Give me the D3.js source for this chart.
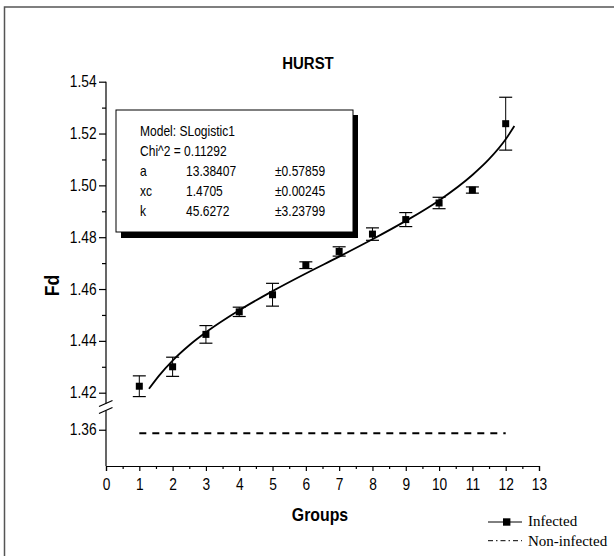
<!DOCTYPE html>
<html>
<head>
<meta charset="utf-8">
<script src="https://cdn.jsdelivr.net/npm/d3@7"></script>
<style>
  body { margin: 0; background: #fff; }
  svg text { font-family: Arial, "Liberation Sans", Helvetica, sans-serif; fill: #000; }
  .legend text { font-family: "Times New Roman", "Liberation Serif", serif; }
</style>
</head>
<body>
<div id="chart"></div>
<script>
// Infected group means (Fd) with error bars
var groups   = [1, 2, 3, 4, 5, 6, 7, 8, 9, 10, 11, 12];
var infected = [1.4225, 1.4300, 1.4425, 1.4512, 1.4578, 1.4692, 1.4745, 1.4812, 1.4868, 1.4932, 1.4982, 1.5238];
var errors   = [0.0040, 0.0037, 0.0034, 0.0018, 0.0044, 0.0013, 0.0018, 0.0024, 0.0027, 0.0022, 0.0012, 0.0102];

// Non-infected reference level (dashed)
var nonInfectedX = [1, 12];
var nonInfectedY = [1.3586, 1.3586];

// SLogistic1 fit curve
var fitX = [1.29, 1.6, 2, 2.5, 3, 4, 5, 6, 7, 8, 9, 10, 11, 11.5, 12, 12.26];
var fitY = [1.4215, 1.4267, 1.4324, 1.4383, 1.4433, 1.4518, 1.4592, 1.4660, 1.4725, 1.4792, 1.4863, 1.4942, 1.5040, 1.5101, 1.5178, 1.5229];

// Tick labels
var xTicks      = d3.range(0, 14);
var xMinorTicks = d3.range(0.5, 13, 1);
var yTicks      = [1.42, 1.44, 1.46, 1.48, 1.50, 1.52, 1.54];
var yMinorTicks = [1.43, 1.45, 1.47, 1.49, 1.51, 1.53];
var yLowTicks   = [1.36];

// Fit parameters box
var boxRows = [
  ["Model: SLogistic1", "", ""],
  ["Chi^2 = 0.11292", "", ""],
  ["a", "13.38407", "\u00b10.57859"],
  ["xc", "1.4705", "\u00b10.00245"],
  ["k", "45.6272", "\u00b13.23799"]
];

var width = 614, height = 556;
var squeeze = "scale(0.86,1)";

var svg = d3.select("#chart").append("svg")
    .attr("width", width)
    .attr("height", height);

// outer frame
svg.append("rect")
    .attr("x", 4.5).attr("y", 7)
    .attr("width", 700).attr("height", 700)
    .attr("fill", "none")
    .attr("stroke", "#555")
    .attr("stroke-width", 1.5);

// scales: x, upper (main) y segment, lower (broken) y segment
var x = d3.scaleLinear().domain([0, 13]).range([106, 539]);
var y = d3.scaleLinear().domain([1.42, 1.54]).range([392.7, 81.7]);
var yLow = d3.scaleLinear().domain([1.346, 1.367]).range([466, 411.6]);

var axisY0 = 106, axisX0 = 466;

// x axis
var xAxis = svg.append("g")
    .attr("transform", "translate(0," + axisX0 + ")")
    .call(d3.axisBottom(x).tickValues(xTicks).tickSize(5).tickPadding(8)
          .tickFormat(d3.format("d")));
svg.append("g")
    .attr("transform", "translate(0," + axisX0 + ")")
    .call(d3.axisBottom(x).tickValues(xMinorTicks).tickSize(3).tickFormat(""))
    .select(".domain").remove();

// y axis, upper part
var yAxis = svg.append("g")
    .attr("transform", "translate(" + axisY0 + ",0)")
    .call(d3.axisLeft(y).tickValues(yTicks).tickSize(7).tickPadding(4)
          .tickFormat(d3.format(".2f")));
yAxis.select(".domain").remove();
svg.append("g")
    .attr("transform", "translate(" + axisY0 + ",0)")
    .call(d3.axisLeft(y).tickValues(yMinorTicks).tickSize(4).tickFormat(""))
    .select(".domain").remove();

// y axis, lower part
var yLowAxis = svg.append("g")
    .attr("transform", "translate(" + axisY0 + ",0)")
    .call(d3.axisLeft(yLow).tickValues(yLowTicks).tickSize(7).tickPadding(4)
          .tickFormat(d3.format(".2f")));
yLowAxis.select(".domain").remove();

svg.selectAll(".tick text")
    .attr("font-size", 16)
    .attr("transform", squeeze);
svg.selectAll(".tick line").attr("stroke-width", 1.2);
xAxis.select(".domain").attr("stroke-width", 1.2);

// y axis line with break
svg.append("line")
    .attr("x1", axisY0).attr("x2", axisY0)
    .attr("y1", y(1.54)).attr("y2", 403.5)
    .attr("stroke", "#000").attr("stroke-width", 1.2);
svg.append("line")
    .attr("x1", axisY0).attr("x2", axisY0)
    .attr("y1", 410.5).attr("y2", axisX0)
    .attr("stroke", "#000").attr("stroke-width", 1.2);
[0, 7].forEach(function(off) {
  svg.append("line")
      .attr("x1", 99).attr("y1", 406.5 + off)
      .attr("x2", 112.5).attr("y2", 400.5 + off)
      .attr("stroke", "#000").attr("stroke-width", 1.2);
});

// titles
svg.append("text")
    .attr("transform", "translate(308,69) scale(0.88,1)")
    .attr("text-anchor", "middle")
    .attr("font-size", 17).attr("font-weight", "bold")
    .text("HURST");
svg.append("text")
    .attr("transform", "translate(320,521) scale(0.88,1)")
    .attr("text-anchor", "middle")
    .attr("font-size", 18).attr("font-weight", "bold")
    .text("Groups");
svg.append("text")
    .attr("transform", "translate(59,285.5) rotate(-90) scale(0.88,1)")
    .attr("text-anchor", "middle")
    .attr("font-size", 20).attr("font-weight", "bold")
    .text("Fd");

// non-infected dashed level
svg.append("line")
    .attr("x1", x(nonInfectedX[0])).attr("x2", x(nonInfectedX[1]))
    .attr("y1", yLow(nonInfectedY[0])).attr("y2", yLow(nonInfectedY[1]))
    .attr("stroke", "#000").attr("stroke-width", 2)
    .attr("stroke-dasharray", "7,6");

// fit curve
var fitLine = d3.line()
    .x(function(d) { return x(d[0]); })
    .y(function(d) { return y(d[1]); })
    .curve(d3.curveMonotoneX);
svg.append("path")
    .datum(d3.zip(fitX, fitY))
    .attr("d", fitLine)
    .attr("fill", "none")
    .attr("stroke", "#000")
    .attr("stroke-width", 1.8);

// error bars and points
var pts = groups.map(function(g, i) {
  return { g: g, v: infected[i], e: errors[i] };
});
var pg = svg.append("g").attr("class", "points");
var bar = pg.selectAll("g").data(pts).enter().append("g");
bar.append("line")
    .attr("x1", function(d) { return x(d.g); })
    .attr("x2", function(d) { return x(d.g); })
    .attr("y1", function(d) { return y(d.v + d.e); })
    .attr("y2", function(d) { return y(d.v - d.e); })
    .attr("stroke", "#000").attr("stroke-width", 1);
[1, -1].forEach(function(s) {
  bar.append("line")
      .attr("x1", function(d) { return x(d.g) - 6.5; })
      .attr("x2", function(d) { return x(d.g) + 6.5; })
      .attr("y1", function(d) { return y(d.v + s * d.e); })
      .attr("y2", function(d) { return y(d.v + s * d.e); })
      .attr("stroke", "#000").attr("stroke-width", 1.2);
});
bar.append("rect")
    .attr("x", function(d) { return x(d.g) - 3.5; })
    .attr("y", function(d) { return y(d.v) - 3.5; })
    .attr("width", 7).attr("height", 7)
    .attr("fill", "#000");

// parameter box with drop shadow
var box = svg.append("g");
box.append("rect")
    .attr("x", 121).attr("y", 115)
    .attr("width", 237).attr("height", 123)
    .attr("fill", "#000");
box.append("rect")
    .attr("x", 116).attr("y", 110)
    .attr("width", 237).attr("height", 122)
    .attr("fill", "#fff")
    .attr("stroke", "#000").attr("stroke-width", 1);
var colX = [140, 186, 275];
boxRows.forEach(function(row, i) {
  row.forEach(function(t, j) {
    if (!t) return;
    box.append("text")
        .attr("transform", "translate(" + colX[j] + "," + (136 + i * 20.1) + ") " + squeeze)
        .attr("font-size", 14)
        .text(t);
  });
});

// legend
var lg = svg.append("g").attr("class", "legend");
lg.append("line")
    .attr("x1", 488).attr("x2", 522).attr("y1", 522).attr("y2", 522)
    .attr("stroke", "#000").attr("stroke-width", 1);
lg.append("rect")
    .attr("x", 503).attr("y", 518.3).attr("width", 7.4).attr("height", 7.4)
    .attr("fill", "#000");
lg.append("line")
    .attr("x1", 488).attr("x2", 522).attr("y1", 540.7).attr("y2", 540.7)
    .attr("stroke", "#000").attr("stroke-width", 1)
    .attr("stroke-dasharray", "5,3,1.5,3");
lg.append("text").attr("x", 528).attr("y", 526)
    .attr("font-size", 15).text("Infected");
lg.append("text").attr("x", 528).attr("y", 545.5)
    .attr("font-size", 15).text("Non-infected");
</script>
</body>
</html>
